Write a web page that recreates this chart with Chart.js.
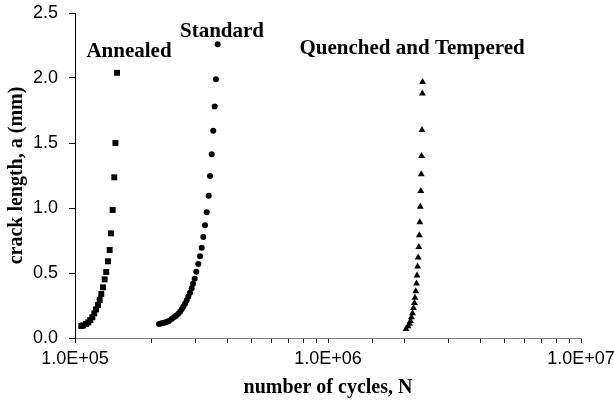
<!DOCTYPE html>
<html>
<head>
<meta charset="utf-8">
<script src="https://cdn.jsdelivr.net/npm/chart.js@4.4.0/dist/chart.umd.min.js"></script>
<style>
  html, body { margin: 0; padding: 0; background: #fff; }
</style>
</head>
<body>
<canvas id="crackChart" width="614" height="411"></canvas>
<script>
// crack growth curves, a vs N, for the three heat treatments
var annealedN = [1.059e5, 1.078e5, 1.105e5, 1.129e5, 1.149e5, 1.171e5, 1.192e5, 1.211e5, 1.233e5, 1.252e5,
                 1.270e5, 1.290e5, 1.310e5, 1.329e5, 1.350e5, 1.371e5, 1.388e5, 1.409e5, 1.430e5, 1.445e5, 1.466e5];
var annealedA = [0.092, 0.097, 0.108, 0.120, 0.138, 0.160, 0.190, 0.220, 0.254, 0.292,
                 0.338, 0.390, 0.451, 0.508, 0.590, 0.677, 0.805, 0.985, 1.236, 1.500, 2.040];

var standardN = [2.148e5, 2.187e5, 2.227e5, 2.268e5, 2.310e5, 2.352e5, 2.411e5, 2.462e5, 2.507e5, 2.560e5,
                 2.600e5, 2.641e5, 2.679e5, 2.721e5, 2.764e5, 2.804e5, 2.848e5, 2.893e5, 2.927e5, 2.972e5,
                 3.016e5, 3.071e5, 3.119e5, 3.168e5, 3.214e5, 3.264e5, 3.315e5, 3.376e5, 3.416e5, 3.469e5,
                 3.520e5, 3.565e5, 3.607e5, 3.664e5];
var standardA = [0.108, 0.112, 0.115, 0.119, 0.125, 0.131, 0.146, 0.159, 0.172, 0.187,
                 0.202, 0.221, 0.241, 0.264, 0.290, 0.318, 0.349, 0.382, 0.418, 0.456,
                 0.510, 0.569, 0.628, 0.695, 0.777, 0.868, 0.967, 1.095, 1.246, 1.413,
                 1.595, 1.780, 1.990, 2.260];

var qtN = [2.034e6, 2.071e6, 2.100e6, 2.119e6, 2.138e6, 2.158e6, 2.177e6, 2.197e6, 2.207e6, 2.223e6,
           2.238e6, 2.248e6, 2.260e6, 2.272e6, 2.285e6, 2.296e6, 2.306e6, 2.316e6, 2.327e6, 2.336e6,
           2.344e6, 2.352e6, 2.361e6, 2.365e6];
var qtA = [0.07, 0.09, 0.11, 0.13, 0.16, 0.19, 0.23, 0.27, 0.31, 0.36,
           0.42, 0.48, 0.55, 0.62, 0.70, 0.79, 0.89, 1.01, 1.13, 1.26,
           1.40, 1.60, 1.88, 1.97];

// series names written next to each curve (x = cycles, y = crack length)
var labelText = ['Annealed', 'Standard', 'Quenched and Tempered'];
var labelN = [1.635e5, 3.81e5, 2.15e6];
var labelA = [2.2, 2.354, 2.23];

var yTicks = [0, 0.5, 1.0, 1.5, 2.0, 2.5];

function toPoints(xs, ys) {
  return xs.map(function (x, i) { return { x: x, y: ys[i] }; });
}

function sciLabel(v) {
  var e = Math.round(Math.log10(v));
  if (Math.abs(Math.log10(v) - e) > 1e-9) return '';
  var m = v / Math.pow(10, e);
  return m.toFixed(1) + 'E+' + (e < 10 ? '0' + e : e);
}

var seriesLabels = {
  id: 'seriesLabels',
  afterDraw: function (chart) {
    var ctx = chart.ctx;
    var xs = chart.scales.x, ys = chart.scales.y;
    ctx.save();
    ctx.font = 'bold 21px "Liberation Serif", "Times New Roman", serif';
    ctx.fillStyle = '#000';
    ctx.textAlign = 'center';
    ctx.textBaseline = 'middle';
    for (var i = 0; i < labelText.length; i++) {
      ctx.fillText(labelText[i], xs.getPixelForValue(labelN[i]), ys.getPixelForValue(labelA[i]));
    }
    ctx.restore();
  }
};

var tickFont = { family: '"Liberation Sans", Arial, sans-serif', size: 18 };
var titleFont = { family: '"Liberation Serif", "Times New Roman", serif', size: 20, weight: 'bold' };

var ctx = document.getElementById('crackChart').getContext('2d');
var chart = new Chart(ctx, {
  type: 'scatter',
  data: {
    datasets: [{
      label: 'Annealed',
      data: toPoints(annealedN, annealedA),
      pointStyle: 'rect',
      pointRadius: 4.2,
      backgroundColor: '#000',
      borderColor: '#000',
      borderWidth: 0
    }, {
      label: 'Standard',
      data: toPoints(standardN, standardA),
      pointStyle: 'circle',
      pointRadius: 3,
      backgroundColor: '#000',
      borderColor: '#000',
      borderWidth: 0
    }, {
      label: 'Quenched and Tempered',
      data: toPoints(qtN, qtA),
      pointStyle: 'triangle',
      pointRadius: 4,
      backgroundColor: '#000',
      borderColor: '#000',
      borderWidth: 0
    }]
  },
  options: {
    responsive: false,
    animation: false,
    devicePixelRatio: 1,
    layout: { padding: { top: 13, right: 33, left: 0, bottom: 0 } },
    plugins: {
      legend: { display: false },
      tooltip: { enabled: false }
    },
    scales: {
      x: {
        type: 'logarithmic',
        min: 1e5,
        max: 1e7,
        afterFit: function (s) {
          s.height = 73;
          s.paddingLeft = 0;
          s.paddingRight = 0;
        },
        border: { display: true, color: '#808080', width: 1 },
        grid: { drawOnChartArea: false, drawTicks: true, tickLength: 5, color: '#000' },
        ticks: {
          autoSkip: false,
          maxRotation: 0,
          padding: 5,
          color: '#000',
          font: tickFont,
          callback: function (v) { return sciLabel(v); }
        },
        title: {
          display: true,
          text: 'number of cycles, N',
          color: '#000',
          font: titleFont,
          padding: { top: 0, bottom: 11 }
        }
      },
      y: {
        min: 0,
        max: 2.5,
        afterFit: function (s) {
          s.width = 75;
          s.paddingTop = 0;
          s.paddingBottom = 0;
        },
        afterBuildTicks: function (s) {
          s.ticks = yTicks.map(function (v) { return { value: v }; });
        },
        border: { display: true, color: '#000', width: 1 },
        grid: { drawOnChartArea: false, drawTicks: true, tickLength: 6, color: '#000' },
        ticks: {
          padding: 11,
          color: '#000',
          font: tickFont,
          callback: function (v) { return v.toFixed(1); }
        },
        title: {
          display: true,
          text: 'crack length, a (mm)',
          color: '#000',
          font: titleFont,
          padding: { top: 5, bottom: 0 }
        }
      }
    }
  },
  plugins: [seriesLabels]
});
</script>
</body>
</html>
